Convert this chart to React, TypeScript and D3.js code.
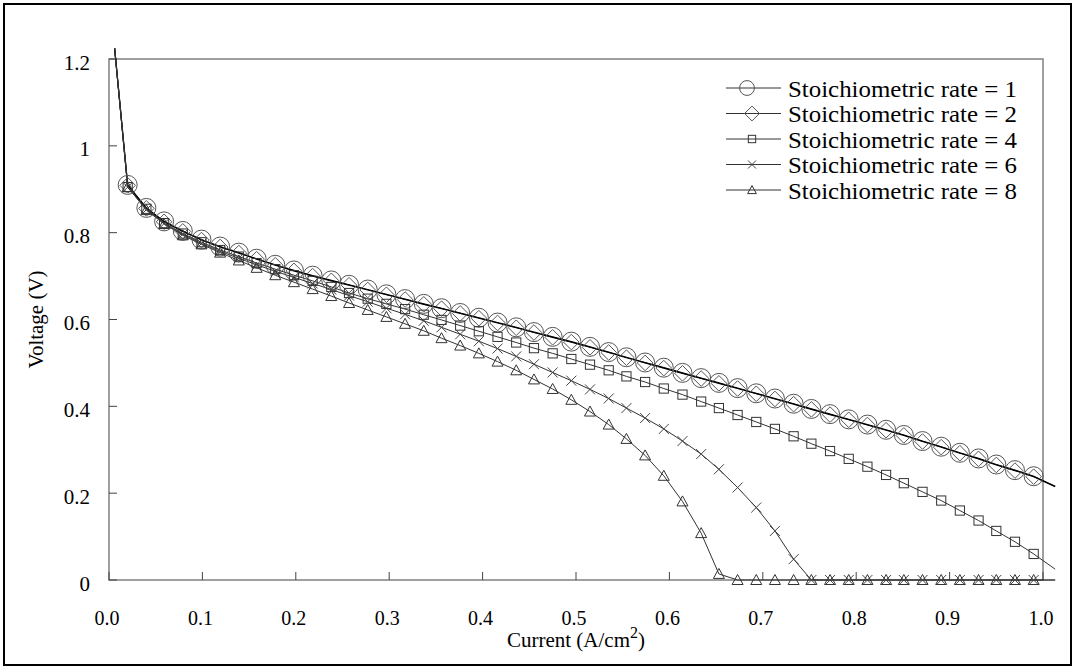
import { scaleLinear, line as d3_line, curveLinear, format } from "d3";

// current density (A/cm2) at every marker
const CURRENT = [
  0.02, 0.04, 0.059, 0.079, 0.099, 0.119, 0.139, 0.158, 0.178, 0.198,
  0.218, 0.238, 0.257, 0.277, 0.297, 0.317, 0.337, 0.356, 0.376, 0.396,
  0.416, 0.436, 0.455, 0.475, 0.495, 0.515, 0.535, 0.554, 0.574, 0.594,
  0.614, 0.634, 0.653, 0.673, 0.693, 0.713, 0.733, 0.752, 0.772, 0.792,
  0.812, 0.832, 0.851, 0.871, 0.891, 0.911, 0.931, 0.95, 0.97, 0.99,
];

const RATE_1 = [
  0.91, 0.857, 0.826, 0.804, 0.784, 0.768, 0.754, 0.74, 0.726, 0.713,
  0.701, 0.69, 0.68, 0.669, 0.658, 0.647, 0.636, 0.626, 0.615, 0.604,
  0.593, 0.582, 0.571, 0.56, 0.549, 0.537, 0.525, 0.513, 0.501, 0.489,
  0.477, 0.465, 0.454, 0.442, 0.43, 0.418, 0.406, 0.394, 0.382, 0.37,
  0.358, 0.346, 0.334, 0.32, 0.307, 0.293, 0.28, 0.266, 0.253, 0.239,
];

const RATE_2 = [
  0.909, 0.856, 0.825, 0.803, 0.783, 0.767, 0.753, 0.739, 0.725, 0.712,
  0.7, 0.689, 0.679, 0.668, 0.657, 0.646, 0.635, 0.625, 0.614, 0.603,
  0.592, 0.581, 0.57, 0.559, 0.548, 0.536, 0.524, 0.512, 0.5, 0.488,
  0.476, 0.464, 0.453, 0.441, 0.429, 0.417, 0.405, 0.393, 0.381, 0.369,
  0.357, 0.345, 0.333, 0.319, 0.306, 0.292, 0.279, 0.265, 0.252, 0.238,
];

const RATE_4 = [
  0.905, 0.855, 0.822, 0.798, 0.778, 0.76, 0.745, 0.73, 0.716, 0.702,
  0.689, 0.675, 0.661, 0.648, 0.636, 0.624, 0.611, 0.599, 0.586, 0.573,
  0.56, 0.547, 0.534, 0.522, 0.509, 0.496, 0.483, 0.469, 0.456, 0.441,
  0.427, 0.411, 0.396, 0.38, 0.364, 0.348, 0.331, 0.314, 0.297, 0.279,
  0.261, 0.242, 0.223, 0.203, 0.183, 0.16, 0.137, 0.113, 0.088, 0.06,
];

const RATE_6 = [
  0.905, 0.853, 0.821, 0.796, 0.775, 0.757, 0.741, 0.726, 0.711, 0.697,
  0.683, 0.669, 0.655, 0.641, 0.626, 0.612, 0.597, 0.582, 0.566, 0.55,
  0.533, 0.515, 0.497, 0.478, 0.459, 0.439, 0.418, 0.396, 0.373, 0.348,
  0.32, 0.29, 0.255, 0.213, 0.167, 0.113, 0.048, 0, 0, 0,
  0, 0, 0, 0, 0, 0, 0, 0, 0, 0,
];

const RATE_8 = [
  0.905, 0.852, 0.82, 0.794, 0.773, 0.754, 0.736, 0.719, 0.702, 0.686,
  0.67, 0.654, 0.638, 0.622, 0.606, 0.59, 0.574, 0.557, 0.54, 0.522,
  0.503, 0.483, 0.462, 0.44, 0.415, 0.388, 0.358, 0.325, 0.287, 0.24,
  0.181, 0.108, 0.014, 0, 0, 0, 0, 0, 0, 0,
  0, 0, 0, 0, 0, 0, 0, 0, 0, 0,
];

// the model curves run a little past the markers at both ends
const LINE_START_CURRENT = 0.006;
const LINE_START_VOLTAGE = 1.225;
const LINE_END_CURRENT = 1.013;
const LINE_END_VOLTAGE = [0.216, 0.215, 0.025, 0, 0];

const SERIES_NAMES = [
  "Stoichiometric rate = 1",
  "Stoichiometric rate = 2",
  "Stoichiometric rate = 4",
  "Stoichiometric rate = 6",
  "Stoichiometric rate = 8",
];
const SERIES_VALUES = [RATE_1, RATE_2, RATE_4, RATE_6, RATE_8];
const MARKERS = ["circle", "diamond", "square", "cross", "triangle"];

const X_TICKS = [0, 0.1, 0.2, 0.3, 0.4, 0.5, 0.6, 0.7, 0.8, 0.9, 1.0];
const Y_TICKS = [0, 0.2, 0.4, 0.6, 0.8, 1, 1.2];
const Y_TICK_LABELS = ["0", "0.2", "0.4", "0.6", "0.8", "1", "1.2"];

const FONT = "Liberation Serif, DejaVu Serif, Times New Roman, serif";

function Marker({ kind, x, y, s }: { kind: string; x: number; y: number; s: number }) {
  if (kind === "circle")
    return <circle cx={x} cy={y} r={9.5 * s} fill="none" stroke="#555" strokeWidth={1} />;
  if (kind === "diamond") {
    const h = 7.8 * s;
    return (
      <path
        d={`M${x},${y - h}L${x + h},${y}L${x},${y + h}L${x - h},${y}Z`}
        fill="none"
        stroke="#555"
        strokeWidth={1}
      />
    );
  }
  if (kind === "square") {
    const h = 4.6 * s;
    return <rect x={x - h} y={y - h} width={2 * h} height={2 * h} fill="none" stroke="#333" strokeWidth={1} />;
  }
  if (kind === "cross") {
    const h = 5 * s;
    return (
      <path
        d={`M${x - h},${y - h}L${x + h},${y + h}M${x - h},${y + h}L${x + h},${y - h}`}
        fill="none"
        stroke="#444"
        strokeWidth={1}
      />
    );
  }
  const w = 5.5 * s;
  return (
    <path
      d={`M${x},${y - 5.5 * s}L${x + w},${y + 4.5 * s}L${x - w},${y + 4.5 * s}Z`}
      fill="none"
      stroke="#333"
      strokeWidth={1}
    />
  );
}

export default function App() {
  const width = 1075;
  const height = 669;

  const x = scaleLinear().domain([0, 1]).range([109, 1043]);
  const y = scaleLinear().domain([0, 1.2]).range([580, 59]);

  const line = d3_line<[number, number]>()
    .x((d) => x(d[0]))
    .y((d) => y(d[1]))
    .curve(curveLinear);

  const paths = SERIES_VALUES.map((vals, si) =>
    line([
      [LINE_START_CURRENT, LINE_START_VOLTAGE],
      ...vals.map((v, i) => [CURRENT[i], v] as [number, number]),
      [LINE_END_CURRENT, LINE_END_VOLTAGE[si]],
    ])
  );

  const fmtX = format(".1f");
  const legendRowY = (i: number) => 88 + i * 25.5;
  const textStyle = { fontFamily: FONT };

  return (
    <div style={{ position: "absolute", left: 0, top: 0 }}>
      <svg width={width} height={height} style={{ display: "block", background: "#fff" }}>
        <rect x={4} y={4} width={width - 8} height={height - 8} fill="#fff" stroke="#000" strokeWidth={2} />

        {/* frame */}
        <rect x={x(0)} y={y(1.2)} width={x(1) - x(0)} height={y(0) - y(1.2)} fill="none" stroke="#808080" strokeWidth={1.5} />

        {/* ticks */}
        {Y_TICKS.map((t) => (
          <line key={`yt${t}`} x1={x(0)} x2={x(0) + 8} y1={y(t)} y2={y(t)} stroke="#444" strokeWidth={1} />
        ))}
        {X_TICKS.map((t) => (
          <line key={`xt${t}`} x1={x(t)} x2={x(t)} y1={y(0)} y2={y(0) - 8} stroke="#444" strokeWidth={1} />
        ))}

        {/* tick labels */}
        {Y_TICKS.map((t, i) => (
          <text key={`yl${t}`} x={90} y={y(t) + 10.5} textAnchor="end" style={textStyle} fontSize={21} fill="#000">
            {Y_TICK_LABELS[i]}
          </text>
        ))}
        {X_TICKS.map((t) => (
          <text key={`xl${t}`} x={x(t) - 2} y={625} textAnchor="middle" style={textStyle} fontSize={20} fill="#000">
            {fmtX(t)}
          </text>
        ))}

        {/* axis titles */}
        <text x={x(0.5)} y={647} textAnchor="middle" style={textStyle} fontSize={21} fill="#000">
          Current (A/cm<tspan dy={-9} fontSize={16}>2</tspan>
          <tspan dy={9}>)</tspan>
        </text>
        <text
          transform={`translate(43,${(y(0) + y(1.2)) / 2}) rotate(-90)`}
          textAnchor="middle"
          style={textStyle}
          fontSize={21}
          fill="#000"
        >
          Voltage (V)
        </text>

        {/* curves */}
        {paths.map((d, i) => (
          <path
            key={`p${i}`}
            d={d ?? ""}
            fill="none"
            stroke={i < 2 ? "#000" : "#333"}
            strokeWidth={i < 2 ? 1.2 : 1}
          />
        ))}

        {/* markers */}
        {SERIES_VALUES.map((vals, si) =>
          vals.map((v, i) => (
            <Marker key={`m${si}-${i}`} kind={MARKERS[si]} x={x(CURRENT[i])} y={y(v)} s={1} />
          ))
        )}

        {/* legend */}
        {SERIES_NAMES.map((name, i) => (
          <g key={name}>
            <line x1={726} x2={781} y1={legendRowY(i)} y2={legendRowY(i)} stroke="#333" strokeWidth={1} />
            <Marker kind={MARKERS[i]} x={i === 0 ? 747 : 752} y={legendRowY(i)} s={i === 0 ? 0.78 : i === 1 ? 0.95 : 0.8} />
            <text
              x={788}
              y={legendRowY(i) + 8.5}
              style={textStyle}
              fontSize={23}
              textLength={229}
              lengthAdjust="spacingAndGlyphs"
              fill="#000"
            >
              {name}
            </text>
          </g>
        ))}
      </svg>
    </div>
  );
}
